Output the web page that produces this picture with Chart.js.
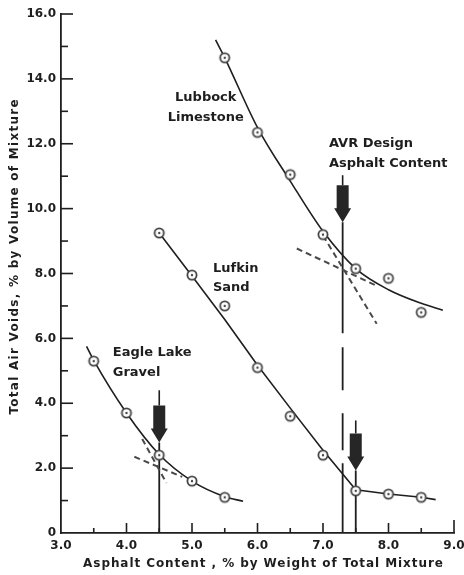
<!DOCTYPE html>
<html>
<head>
<meta charset="utf-8">
<script src="https://cdn.jsdelivr.net/npm/chart.js@4/dist/chart.umd.min.js"></script>
<style>
  html, body { margin: 0; padding: 0; background: #fff; }
  #wrap { width: 464px; height: 575px; }
</style>
</head>
<body>
<div id="wrap"><canvas id="c" width="464" height="575"></canvas></div>
<script>
// Total air voids versus asphalt content for three aggregates
const xTickLabels = ['3.0', '4.0', '5.0', '6.0', '7.0', '8.0', '9.0'];
const yTickLabels = ['0', '2.0', '4.0', '6.0', '8.0', '10.0', '12.0', '14.0', '16.0'];

// Measured specimens
const gravelX = [3.5, 4.0, 4.5, 5.0, 5.5];
const gravelY = [5.3, 3.7, 2.4, 1.6, 1.1];
const sandX = [4.5, 5.0, 5.5, 6.0, 6.5, 7.0, 7.5, 8.0, 8.5];
const sandY = [9.25, 7.95, 7.0, 5.1, 3.6, 2.4, 1.3, 1.2, 1.1];
const limeX = [5.5, 6.0, 6.5, 7.0, 7.5, 8.0, 8.5];
const limeY = [14.65, 12.35, 11.05, 9.2, 8.15, 7.85, 6.8];

// Fitted curves
const gravelFitX = [3.39, 3.5, 4.0, 4.5, 5.0, 5.5, 5.78];
const gravelFitY = [5.75, 5.32, 3.7, 2.42, 1.6, 1.12, 0.98];
const sandFitX = [4.5, 5.0, 5.5, 6.0, 6.5, 7.0, 7.5, 8.0, 8.5, 8.72];
const sandFitY = [9.25, 7.92, 6.58, 5.17, 3.85, 2.55, 1.33, 1.2, 1.1, 1.03];
const limeFitX = [5.36, 5.5, 6.0, 6.5, 7.0, 7.5, 8.0, 8.5, 8.83];
const limeFitY = [15.2, 14.65, 12.5, 10.85, 9.3, 8.15, 7.5, 7.08, 6.87];

// Tangent construction lines
const limeTanAX = [6.6, 7.82];
const limeTanAY = [8.77, 7.62];
const limeTanBX = [7.0, 7.82];
const limeTanBY = [9.17, 6.45];
const gravelTanAX = [4.12, 4.85];
const gravelTanAY = [2.35, 1.73];
const gravelTanBX = [4.24, 4.61];
const gravelTanBY = [2.9, 1.54];

// Design asphalt contents: arrow tip and tail heights
const designX = [4.5, 7.3, 7.5];
const designTip = [2.79, 9.58, 1.93];
const designTop = [4.4, 11.03, 3.47];

const zip = (xs, ys) => xs.map((v, i) => ({ x: v, y: ys[i] }));

// Ring-with-dot marker
const marker = document.createElement('canvas');
marker.width = 14; marker.height = 14;
(function () {
  const g = marker.getContext('2d');
  g.fillStyle = '#fff';
  g.beginPath(); g.arc(7, 7, 4.6, 0, Math.PI * 2); g.fill();
  g.strokeStyle = '#444'; g.lineWidth = 1.8;
  g.stroke();
  g.fillStyle = '#444';
  g.beginPath(); g.arc(7, 7, 1.2, 0, Math.PI * 2); g.fill();
})();

const INK = '#1e1e1e';
const curve = (xs, ys, tension) => ({
  data: zip(xs, ys), borderColor: INK, borderWidth: 1.6, pointRadius: 0,
  tension: tension, cubicInterpolationMode: tension ? 'monotone' : 'default', order: 2
});
const dashed = (xs, ys) => ({
  data: zip(xs, ys), borderColor: '#4a4a4a', borderWidth: 2, borderDash: [6, 4],
  pointRadius: 0, order: 3
});
const points = (xs, ys) => ({
  data: zip(xs, ys), showLine: false, pointStyle: marker, pointRadius: 6, order: 0
});
// drop lines from each arrow tip down to the axis
const verticals = designX.map((v, i) => ({
  data: [{ x: v, y: designTip[i] }, { x: v, y: 0 }],
  borderColor: INK, borderWidth: 1.8, pointRadius: 0,
  borderDash: v === 7.3 ? [111, 14, 43, 23, 37, 13, 80] : [], order: 4
}));

const notes = [
  { text: 'Lubbock', x: 5.21, y: 13.41, align: 'center' },
  { text: 'Limestone', x: 5.21, y: 12.79, align: 'center' },
  { text: 'Lufkin', x: 5.32, y: 8.16, align: 'left' },
  { text: 'Sand', x: 5.32, y: 7.55, align: 'left' },
  { text: 'Eagle Lake', x: 3.79, y: 5.57, align: 'left' },
  { text: 'Gravel', x: 3.79, y: 4.95, align: 'left' },
  { text: 'AVR Design', x: 7.09, y: 11.99, align: 'left' },
  { text: 'Asphalt Content', x: 7.09, y: 11.40, align: 'left' }
];

const FONT = '"DejaVu Sans", sans-serif';

// Draw a title spread out to a given width
function spreadText(ctx, text, cx, cy, width) {
  ctx.letterSpacing = '0px';
  const w0 = ctx.measureText(text).width;
  const sp = Math.max(0, (width - w0) / (text.length - 1));
  ctx.letterSpacing = sp.toFixed(2) + 'px';
  const w1 = ctx.measureText(text).width;
  ctx.textAlign = 'left';
  ctx.fillText(text, cx - w1 / 2 + sp / 2, cy);
  ctx.letterSpacing = '0px';
}

const decor = {
  id: 'decor',
  afterDatasetsDraw(chart) {
    const { ctx } = chart;
    const xs = chart.scales.x, ys = chart.scales.y;
    ctx.save();

    // inward tick marks
    ctx.strokeStyle = INK; ctx.lineWidth = 1.6;
    const bottom = ys.getPixelForValue(0), left = xs.getPixelForValue(3);
    for (let v = 3.5; v <= 9.001; v += 0.5) {
      const px = xs.getPixelForValue(v);
      const len = v >= 9 ? 13 : (Math.abs(v - Math.round(v)) < 1e-6 ? 10 : 5);
      ctx.beginPath(); ctx.moveTo(px, bottom); ctx.lineTo(px, bottom - len); ctx.stroke();
    }
    for (let v = 1; v <= 16; v += 1) {
      const py = ys.getPixelForValue(v);
      const len = v % 2 === 0 ? 12 : 7;
      ctx.beginPath(); ctx.moveTo(left, py); ctx.lineTo(left + len, py); ctx.stroke();
    }

    // design arrows
    designX.forEach((v, i) => {
      const px = xs.getPixelForValue(v);
      const tip = ys.getPixelForValue(designTip[i]);
      const top = ys.getPixelForValue(designTop[i]);
      const headH = 14, bodyH = 23, bodyW = 12, headW = 17;
      ctx.strokeStyle = INK; ctx.lineWidth = 1.6;
      ctx.beginPath(); ctx.moveTo(px, top); ctx.lineTo(px, tip - headH - bodyH); ctx.stroke();
      ctx.fillStyle = '#262626';
      ctx.beginPath();
      ctx.moveTo(px - bodyW / 2, tip - headH - bodyH);
      ctx.lineTo(px + bodyW / 2, tip - headH - bodyH);
      ctx.lineTo(px + bodyW / 2, tip - headH);
      ctx.lineTo(px + headW / 2, tip - headH);
      ctx.lineTo(px, tip);
      ctx.lineTo(px - headW / 2, tip - headH);
      ctx.lineTo(px - bodyW / 2, tip - headH);
      ctx.closePath(); ctx.fill();
    });

    // curve labels
    ctx.fillStyle = INK;
    ctx.font = 'bold 13px ' + FONT;
    ctx.textBaseline = 'middle';
    notes.forEach(n => {
      ctx.textAlign = n.align;
      ctx.fillText(n.text, xs.getPixelForValue(n.x), ys.getPixelForValue(n.y));
    });

    // axis titles
    ctx.font = 'bold 12px ' + FONT;
    spreadText(ctx, 'Asphalt Content , % by Weight of Total Mixture', 263, 564, 360);
    ctx.translate(15, 257);
    ctx.rotate(-Math.PI / 2);
    spreadText(ctx, 'Total Air Voids, % by Volume of Mixture', 0, 0, 315);
    ctx.restore();
  }
};

new Chart(document.getElementById('c'), {
  type: 'line',
  data: {
    datasets: [
      points(gravelX, gravelY),
      points(sandX, sandY),
      points(limeX, limeY),
      curve(gravelFitX, gravelFitY, 0.4),
      curve(sandFitX, sandFitY, 0),
      curve(limeFitX, limeFitY, 0.4),
      dashed(limeTanAX, limeTanAY),
      dashed(limeTanBX, limeTanBY),
      dashed(gravelTanAX, gravelTanAY),
      dashed(gravelTanBX, gravelTanBY),
      ...verticals
    ]
  },
  options: {
    responsive: false,
    animation: false,
    devicePixelRatio: 1,
    layout: { padding: { top: 14, right: 10, left: 0, bottom: 0 } },
    plugins: { legend: { display: false }, tooltip: { enabled: false } },
    scales: {
      x: {
        type: 'linear', min: 3, max: 9,
        grid: { display: false, drawTicks: false },
        border: { display: true, color: INK, width: 1.8 },
        ticks: {
          stepSize: 1, padding: 6, color: INK, maxRotation: 0,
          font: { family: FONT, size: 12, weight: 'bold' },
          callback: (v, i) => xTickLabels[i]
        },
        afterFit: s => { s.height = 42; s.paddingLeft = 0; s.paddingRight = 0; }
      },
      y: {
        type: 'linear', min: 0, max: 16,
        grid: { display: false, drawTicks: false },
        border: { display: true, color: INK, width: 1.8 },
        ticks: {
          stepSize: 2, padding: 5, color: INK,
          font: { family: FONT, size: 12, weight: 'bold' },
          callback: (v, i) => yTickLabels[i]
        },
        afterFit: s => { s.width = 61; s.paddingTop = 0; s.paddingBottom = 0; }
      }
    }
  },
  plugins: [decor]
});
</script>
</body>
</html>
